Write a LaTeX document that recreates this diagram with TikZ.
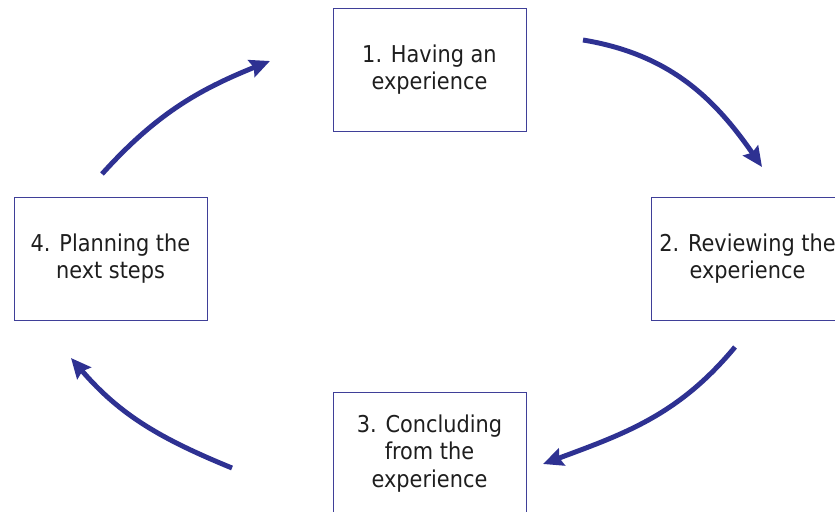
\documentclass[tikz,border=0pt]{standalone}
\usepackage{fontspec}
\setmainfont{DejaVu Sans Condensed}
\usepackage{xcolor}
\usetikzlibrary{arrows.meta}
\definecolor{cyclink}{HTML}{2E3192}
\definecolor{boxline}{HTML}{3F3F98}
\definecolor{boxtext}{HTML}{1E1E1E}

\begin{document}
\begin{tikzpicture}[x=0.75pt,y=-0.75pt,font=\fontsize{17.4}{20.8}\selectfont]
\tikzset{stage/.style={draw=boxline,thin,fill=white,text=boxtext,minimum width=144.75pt,minimum height=92.25pt,align=center,inner sep=0pt},
cycle arrow/.style={draw=cyclink,line width=3.7pt,-{Stealth[length=15pt,width=13.5pt,inset=2pt]}}}
\clip (0,0) rectangle (835,511);
\fill[white] (0,0) rectangle (835,511);

\node[stage] (having) at (429.5,69.5) {1. Having an\\experience};
\node[stage] (reviewing) at (747.5,258.5) {2. Reviewing the\\experience};
\node[stage] (concluding) at (429.5,453.5) {3. Concluding\\from the\\experience};
\node[stage] (planning) at (110.5,258.5) {4. Planning the\\next steps};

\coordinate (a1) at (583,40);
\coordinate (b1) at (762,167);
\coordinate (a2) at (735,347);
\coordinate (b2) at (543,464);
\coordinate (a3) at (232,468);
\coordinate (b3) at (71,358);
\coordinate (a4) at (102,174);
\coordinate (b4) at (270,61);

\draw[cycle arrow] (a1) to[relative,out=26,in=160] (b1);
\draw[cycle arrow] (a2) to[relative,out=19,in=169] (b2);
\draw[cycle arrow] (a3) to[relative,out=12,in=165] (b3);
\draw[cycle arrow] (a4) to[relative,out=14,in=168] (b4);
\end{tikzpicture}
\end{document}
